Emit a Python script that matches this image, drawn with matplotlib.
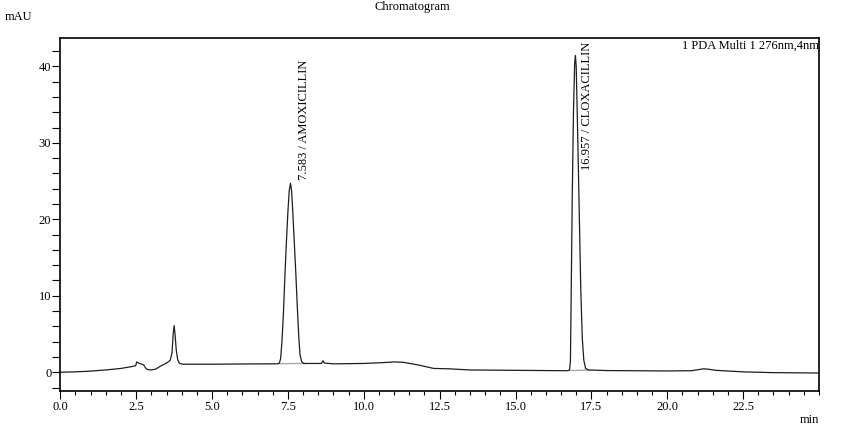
import matplotlib
matplotlib.use("Agg")
import matplotlib.pyplot as plt
from matplotlib.ticker import MultipleLocator, FixedLocator

# retention time (min) and signal (mAU)
time_min = [
    0.0, 0.5, 1.0, 1.5, 2.0, 2.3, 2.48, 2.52, 2.58, 2.65, 2.75, 2.82, 2.88, 3.0,
    3.15, 3.3, 3.5, 3.62, 3.68, 3.72, 3.75, 3.78, 3.82, 3.87, 3.93, 4.05, 5.0,
    6.0, 7.0, 7.15, 7.22, 7.26, 7.30, 7.35, 7.40, 7.45, 7.50, 7.545, 7.585,
    7.62, 7.66, 7.71, 7.76, 7.81, 7.86, 7.90, 7.95, 8.02, 8.6, 8.66, 8.70, 9.0,
    10.0, 10.6, 11.0, 11.3, 11.8, 12.3, 12.8, 13.5, 15.0, 16.0, 16.7, 16.78,
    16.81, 16.84, 16.87, 16.91, 16.95, 16.975, 17.00, 17.05, 17.10, 17.15,
    17.20, 17.25, 17.31, 17.40, 18.0, 20.0, 20.8, 21.2, 21.35, 21.6, 22.5,
    23.5, 25.0,
]
signal_mau = [
    0.0, 0.05, 0.15, 0.3, 0.5, 0.7, 0.85, 1.35, 1.2, 1.1, 0.95, 0.5, 0.35, 0.3,
    0.42, 0.8, 1.2, 1.55, 2.5, 5.0, 6.1, 5.0, 2.9, 1.6, 1.15, 1.05, 1.05,
    1.08, 1.1, 1.1, 1.2, 1.8, 3.8, 7.5, 12.5, 17.0, 21.0, 23.8, 24.7,
    23.8, 21.0, 17.0, 13.0, 8.5, 4.5, 2.3, 1.4, 1.15, 1.15, 1.5, 1.2, 1.1,
    1.15, 1.25, 1.35, 1.3, 0.95, 0.5, 0.45, 0.3, 0.25, 0.22, 0.2, 0.3,
    1.5, 12.0, 23.0, 34.0, 40.5, 41.4, 40.0, 31.0, 21.0, 11.0,
    4.5, 1.6, 0.5, 0.3, 0.22, 0.17, 0.2, 0.45, 0.4, 0.25, 0.05,
    -0.05, -0.1,
]

# integrated peaks: label, apex time, start/end of drawn baseline
peak_names = ["7.583 / AMOXICILLIN", "16.957 / CLOXACILLIN"]
peak_rt = [7.583, 16.957]
base_start = [(7.20, 1.12), (16.76, 0.22)]
base_end = [(8.05, 1.15), (17.42, 0.28)]

plt.rcParams['font.family'] = ['Liberation Serif', 'DejaVu Serif']
plt.rcParams['font.size'] = 9

fig = plt.figure(figsize=(8.58, 4.37), dpi=100)
ax = fig.add_axes([0.0703, 0.1053, 0.8842, 0.8077])

for s, e in zip(base_start, base_end):
    ax.plot([s[0], e[0]], [s[1], e[1]], color="#a8a8a8", lw=1.0, zorder=1)
ax.plot(time_min, signal_mau, color="#1e1e1e", lw=0.9, zorder=2)

ax.set_xlim(0, 25)
ax.set_ylim(-2.45, 43.7)
ax.xaxis.set_major_locator(FixedLocator([0, 2.5, 5, 7.5, 10, 12.5, 15, 17.5, 20, 22.5]))
ax.xaxis.set_minor_locator(MultipleLocator(0.5))
ax.set_xticklabels(["0.0", "2.5", "5.0", "7.5", "10.0", "12.5", "15.0", "17.5", "20.0", "22.5"])
ax.yaxis.set_major_locator(FixedLocator([0, 10, 20, 30, 40]))
ax.yaxis.set_minor_locator(MultipleLocator(2))

ax.tick_params(axis='x', which='major', direction='out', length=5.5, width=0.8, pad=2)
ax.tick_params(axis='x', which='minor', direction='out', length=3, width=0.8)
ax.tick_params(axis='y', which='both', direction='out', length=5.5, width=0.8, pad=1)
for sp in ax.spines.values():
    sp.set_linewidth(1.2)

ax.text(peak_rt[0] + 0.24, 25.1, peak_names[0], rotation=90, ha='left', va='bottom')
ax.text(peak_rt[1] + 0.19, 43.2, peak_names[1], rotation=90, ha='left', va='top')
ax.text(1.0, 0.995, "1 PDA Multi 1 276nm,4nm", transform=ax.transAxes, ha='right', va='top')

fig.text(0.481, 0.998, "Chromatogram", ha='center', va='top')
fig.text(0.006, 0.961, "mAU", ha='left', va='center')
fig.text(0.9545, 0.039, "min", ha='right', va='center')

fig.savefig("out.png", dpi=100)
